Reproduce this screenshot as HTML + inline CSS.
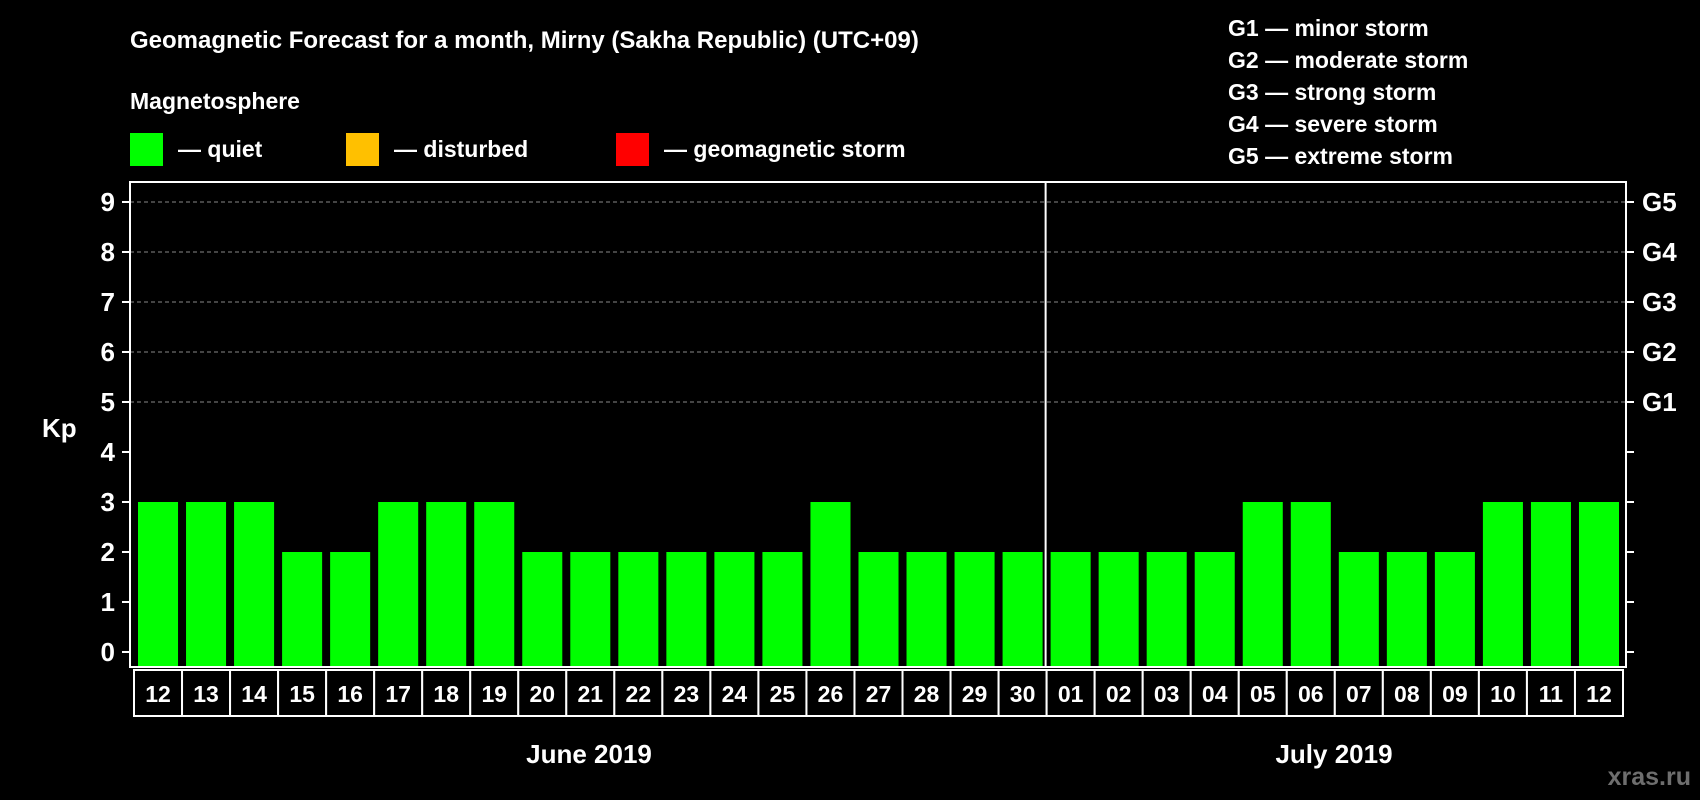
<!DOCTYPE html>
<html><head><meta charset="utf-8">
<style>
html,body{margin:0;padding:0;background:#000;}
svg{display:block;font-family:"Liberation Sans",Arial,sans-serif;font-weight:bold;}
</style></head>
<body>
<svg id="chart" width="1700" height="800" viewBox="0 0 1700 800">
  <rect x="0" y="0" width="1700" height="800" fill="#000"/>
  <text x="130" y="48" fill="#fff" font-size="24">Geomagnetic Forecast for a month, Mirny (Sakha Republic) (UTC+09)</text>
  <text x="130" y="109" fill="#fff" font-size="23">Magnetosphere</text>
  <rect x="130" y="133" width="33" height="33" fill="#00ff00"/>
  <text x="178" y="157" fill="#fff" font-size="23">— quiet</text>
  <rect x="346" y="133" width="33" height="33" fill="#ffc000"/>
  <text x="394" y="157" fill="#fff" font-size="23">— disturbed</text>
  <rect x="616" y="133" width="33" height="33" fill="#ff0000"/>
  <text x="664" y="157" fill="#fff" font-size="23">— geomagnetic storm</text>
  <g font-size="23" fill="#fff">
    <text x="1228" y="36">G1 — minor storm</text>
    <text x="1228" y="68">G2 — moderate storm</text>
    <text x="1228" y="100">G3 — strong storm</text>
    <text x="1228" y="132">G4 — severe storm</text>
    <text x="1228" y="164">G5 — extreme storm</text>
  </g>
  <text x="42" y="437" fill="#fff" font-size="26">Kp</text>
  <text x="589" y="763" fill="#fff" font-size="26" text-anchor="middle">June 2019</text>
  <text x="1334" y="763" fill="#fff" font-size="26" text-anchor="middle">July 2019</text>
  <text x="1691" y="785" fill="#6e6e6e" font-size="25" text-anchor="end">xras.ru</text>
  <g id="plot"></g>
</svg>
<script>
const days = ["12","13","14","15","16","17","18","19","20","21","22","23","24","25","26","27","28","29","30","01","02","03","04","05","06","07","08","09","10","11","12"];
const kpValues = [3,3,3,2,2,3,3,3,2,2,2,2,2,2,3,2,2,2,2,2,2,2,2,3,3,2,2,2,3,3,3];
const yTicks = [0,1,2,3,4,5,6,7,8,9];
const gLabels = ["G1","G2","G3","G4","G5"];
const gLevels = [5,6,7,8,9];

const NS="http://www.w3.org/2000/svg";
const plot=document.getElementById('plot');
const L=130,R=1626,T=182,B=667;
const colL=134,colW=(1623-134)/days.length;
function y(v){return 652-v*50;}
function x(i){return colL+i*colW;}
function mk(tag,attrs){const e=document.createElementNS(NS,tag);for(const k in attrs)e.setAttribute(k,attrs[k]);plot.appendChild(e);return e;}

// gridlines
gLevels.forEach(v=>{
  const g=mk('line',{x1:L,x2:R,y1:y(v),y2:y(v),stroke:'#888','stroke-width':1,'stroke-dasharray':'4,3'});
  
  
});
// bars
kpValues.forEach((v,i)=>{
  const c=v>=5?'#ff0000':(v>=4?'#ffc000':'#00ff00');
  const b=mk('rect',{x:x(i)+4,y:y(v),width:colW-8,height:y(0)-y(v)+15,fill:c});
  
  
});
// frame
const fr=mk('rect',{x:L,y:T,width:R-L,height:B-T,fill:'none',stroke:'#fff','stroke-width':2});


const dv=mk('line',{x1:x(19)-1,x2:x(19)-1,y1:T,y2:B,stroke:'#fff','stroke-width':2});


// y ticks
yTicks.forEach(v=>{
  const t1=mk('line',{x1:L-8,x2:L,y1:y(v),y2:y(v),stroke:'#fff','stroke-width':2});
  
  
  const t2=mk('line',{x1:R,x2:R+8,y1:y(v),y2:y(v),stroke:'#fff','stroke-width':2});
  
  
  const tl=mk('text',{x:115,y:y(v)+9,fill:'#fff','font-size':26,'text-anchor':'end'});
  tl.textContent=v;
  
  
});
gLabels.forEach((g,i)=>{
  const t=mk('text',{x:1642,y:y(gLevels[i])+9,fill:'#fff','font-size':26});
  t.textContent=g;
  
  
});
// day label cells
days.forEach((d,i)=>{
  const r=mk('rect',{x:x(i),y:670,width:colW,height:46,fill:'#000',stroke:'#fff','stroke-width':2});
  
  
  const t=mk('text',{x:x(i)+colW/2,y:702,fill:'#fff','font-size':23,'text-anchor':'middle'});
  t.textContent=d;
  
  
});
</script>
</body></html>
